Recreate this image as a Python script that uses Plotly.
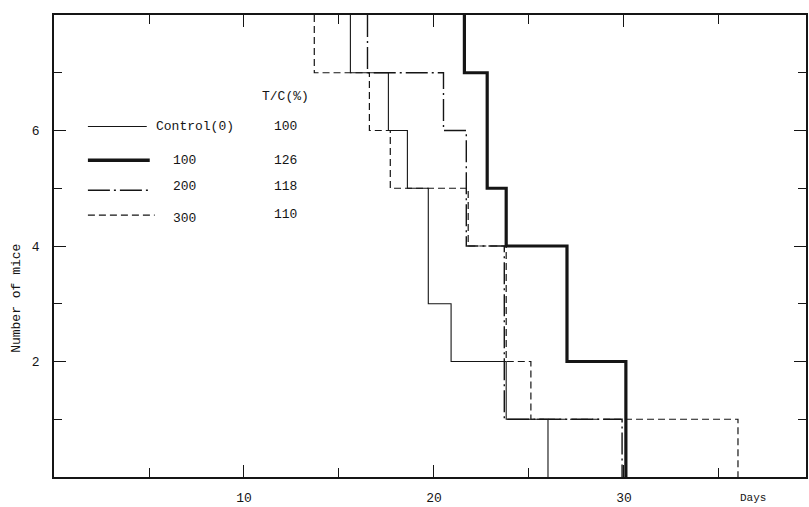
import plotly.graph_objects as go

# ---- data ----
start_mice = 8
control_days = [15.6, 17.6, 18.6, 19.7, 20.9, 23.8, 26.0]
control_alive = [7, 6, 5, 3, 2, 1, 0]
dose100_days = [21.6, 22.8, 23.8, 27.0, 30.1]
dose100_alive = [7, 5, 4, 2, 0]
dose200_days = [16.5, 20.5, 21.7, 23.7, 29.9]
dose200_alive = [7, 6, 4, 1, 0]
dose300_days = [13.7, 16.6, 17.7, 21.8, 23.8, 25.1, 36.0]
dose300_alive = [7, 6, 5, 4, 2, 1, 0]

legend_doses = ["Control(0)", "100", "200", "300"]
legend_tc = ["100", "126", "118", "110"]
x_tick_vals = [10, 20, 30]
y_tick_vals = [2, 4, 6]

INK = "#151515"
FONT = "Liberation Mono"
DASHDOT = "22px,4px,2px,4px"
DASHED = "7px,4px"

fig = go.Figure()
styles = [
    (control_days, control_alive, 1.1, "solid"),
    (dose100_days, dose100_alive, 3.2, "solid"),
    (dose200_days, dose200_alive, 1.4, DASHDOT),
    (dose300_days, dose300_alive, 1.2, DASHED),
]
for d, n, w, dash in styles:
    fig.add_trace(go.Scatter(x=[d[0]] + d, y=[start_mice] + n, mode="lines",
                             line_shape="hv",
                             line=dict(color=INK, width=w, dash=dash),
                             showlegend=False, hoverinfo="skip"))

# plot area in pixels: x 54..808, y 15..479
L, R, T, B = 54, 808, 15, 479
def px(x):
    return (x - L) / (R - L)
def py(y):
    return (B - y) / (B - T)

# legend samples (decoration)
leg_rows = [
    (127, 88, 147, 1.1, "solid"),
    (161, 88, 150, 3.5, "solid"),
    (191, 88, 150, 1.4, DASHDOT),
    (216, 88, 155, 1.2, DASHED),
]
for yy, x0, x1, w, dash in leg_rows:
    fig.add_shape(type="line", xref="paper", yref="paper",
                  x0=px(x0), x1=px(x1), y0=py(yy), y1=py(yy),
                  line=dict(color=INK, width=w, dash=dash))

ann = []
def text(x, y, s, xa="center", size=13, angle=0):
    ann.append(dict(x=px(x), y=py(y), xref="paper", yref="paper", text=s,
                    showarrow=False, xanchor=xa, yanchor="middle",
                    textangle=angle, font=dict(family=FONT, size=size, color=INK)))

text(286, 97, "T/C(%)")
text(154, 127, legend_doses[0], xa="left")
text(185, 161, legend_doses[1])
text(185, 187, legend_doses[2])
text(185, 219, legend_doses[3])
text(286, 127, legend_tc[0])
text(286, 161, legend_tc[1])
text(286, 187, legend_tc[2])
text(286, 215, legend_tc[3])
text(755, 500, "Days", size=11)
text(17, 300, "Number of mice", size=13, angle=-90)

fig.update_layout(
    width=809, height=507,
    margin=dict(l=L, r=809 - R, t=T, b=507 - B),
    paper_bgcolor="white", plot_bgcolor="white",
    annotations=ann,
    font=dict(family=FONT, size=13, color=INK),
)
fig.update_xaxes(range=[0, (R - L) / 19.05], showgrid=False, zeroline=False,
                 showline=True, linecolor=INK, linewidth=1.6, mirror="ticks",
                 tickvals=x_tick_vals, ticks="inside", ticklen=12, tickwidth=1.2,
                 tickcolor=INK, ticklabelstandoff=8,
                 minor=dict(dtick=5, tick0=0, ticks="inside", ticklen=9,
                            tickwidth=1.1, tickcolor=INK))
fig.update_yaxes(range=[0, 8], showgrid=False, zeroline=False,
                 showline=True, linecolor=INK, linewidth=1.6, mirror="ticks",
                 tickvals=y_tick_vals, ticks="inside", ticklen=12, tickwidth=1.2,
                 tickcolor=INK, ticklabelstandoff=10,
                 minor=dict(dtick=1, tick0=0, ticks="inside", ticklen=8,
                            tickwidth=1.1, tickcolor=INK))

fig.write_html("out.html", config={"displayModeBar": False},
               post_script="document.body.style.margin='0';document.body.style.padding='0';")
